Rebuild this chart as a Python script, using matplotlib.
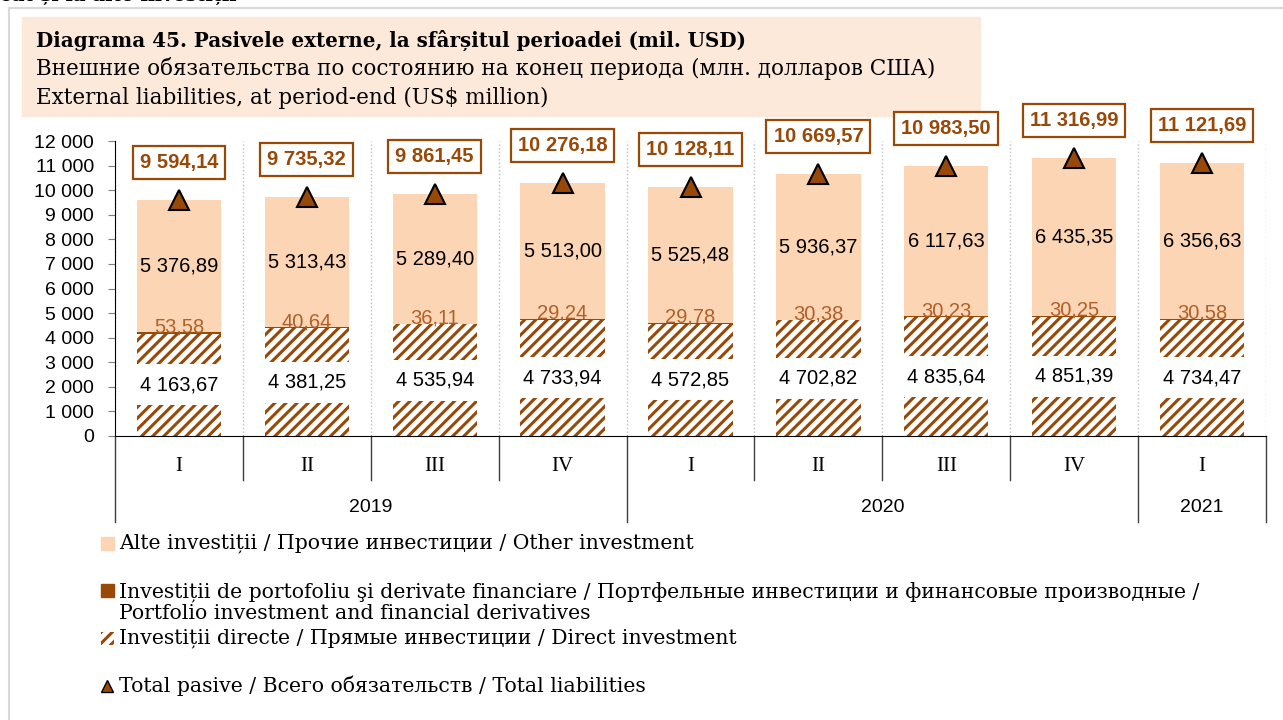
import numpy as np
import matplotlib
matplotlib.use("Agg")
import matplotlib.pyplot as plt
from matplotlib.lines import Line2D
from matplotlib.patches import Rectangle
import matplotlib.transforms as mtransforms

quarters = ["I", "II", "III", "IV", "I", "II", "III", "IV", "I"]
years = ["2019", "2020", "2021"]
year_sizes = [4, 4, 1]
direct = [4163.67, 4381.25, 4535.94, 4733.94, 4572.85, 4702.82, 4835.64, 4851.39, 4734.47]
portfolio = [53.58, 40.64, 36.11, 29.24, 29.78, 30.38, 30.23, 30.25, 30.58]
other = [5376.89, 5313.43, 5289.40, 5513.00, 5525.48, 5936.37, 6117.63, 6435.35, 6356.63]
total = [9594.14, 9735.32, 9861.45, 10276.18, 10128.11, 10669.57, 10983.50, 11316.99, 11121.69]

c_other = "#FCD5B5"
c_brown = "#984807"
c_label = "#B0602A"
c_title_bg = "#FDE9D9"
num_font = ["Liberation Sans", "DejaVu Sans"]
txt_font = ["DejaVu Serif"]

plt.rcParams["hatch.linewidth"] = 2.2
plt.rcParams["hatch.color"] = c_brown


def fmt(v):
    return f"{v:,.2f}".replace(",", " ").replace(".", ",")


fig = plt.figure(figsize=(12.83, 7.2), dpi=100)
ax = fig.add_axes([115 / 1283, 1 - 436 / 720, (1266 - 115) / 1283, 295 / 720])

x = np.arange(len(quarters))
d = np.array(direct)
p = np.array(portfolio)
o = np.array(other)
w = 0.66

ax.bar(x, d, w, color="white", hatch="///", edgecolor=c_brown, linewidth=0, zorder=2)
ax.bar(x, p, w, bottom=d, color=c_brown, linewidth=0, zorder=2)
ax.bar(x, o, w, bottom=d + p, color=c_other, linewidth=0, zorder=2)
ax.plot(x, total, ls="none", marker="^", ms=14, mfc=c_brown, mec="black", mew=1.5, zorder=4)

for i in range(len(x)):
    ax.text(x[i], d[i] / 2, fmt(d[i]), ha="center", va="center", fontsize=14.5,
            family=num_font, zorder=3,
            bbox=dict(boxstyle="square,pad=0.55", fc="white", ec="none"))
    ax.text(x[i], d[i] + p[i], fmt(p[i]), ha="center", va="baseline", fontsize=14.5,
            family=num_font, color=c_label, zorder=3)
    ax.text(x[i], d[i] + p[i] + o[i] / 2, fmt(o[i]), ha="center", va="center",
            fontsize=14.5, family=num_font, zorder=3)
    ax.annotate(fmt(total[i]), (x[i], total[i]), xytext=(0, 27), textcoords="offset points",
                ha="center", va="center", fontsize=14.5, fontweight="bold", family=num_font,
                color=c_brown, zorder=5,
                bbox=dict(boxstyle="square,pad=0.35", fc="white", ec=c_brown, lw=1.6))

ax.set_xlim(-0.5, len(x) - 0.5)
ax.set_ylim(0, 12000)
ax.set_yticks(np.arange(0, 12001, 1000))
ax.set_yticklabels([f"{v:,}".replace(",", " ") for v in range(0, 12001, 1000)],
                   family=num_font, fontsize=14)
ax.tick_params(axis="y", direction="out", length=5, color="#7F7F7F", pad=10)
ax.set_xticks([])
ax.set_xticks(np.arange(-0.5, len(x), 1), minor=True)
ax.tick_params(axis="x", which="minor", length=0)
ax.grid(which="minor", axis="x", ls=":", color="#BFBFBF", lw=1)
for s in ["top", "right"]:
    ax.spines[s].set_visible(False)
ax.spines["left"].set_color("black")
ax.spines["bottom"].set_color("black")

# two-level category axis
tr = mtransforms.blended_transform_factory(ax.transData, ax.transAxes)
for i, q in enumerate(quarters):
    ax.text(x[i], -0.105, q, transform=tr, ha="center", va="center", fontsize=15,
            family=["Liberation Serif"])
bounds = np.cumsum([0] + year_sizes) - 0.5
for k, yr in enumerate(years):
    ax.text((bounds[k] + bounds[k + 1]) / 2, -0.244, yr, transform=tr, ha="center",
            va="center", fontsize=14, family=num_font)
for b in np.arange(-0.5, len(x), 1):
    low = -0.292 if b in bounds else -0.149
    ax.plot([b, b], [0, low], transform=tr, color="#404040", lw=1, clip_on=False)

# frame and title
fig.add_artist(Line2D([9 / 1283, 9 / 1283], [0, 1 - 8 / 720], color="#D9D9D9", lw=1.5))
fig.add_artist(Line2D([9 / 1283, 1], [1 - 8 / 720, 1 - 8 / 720], color="#D9D9D9", lw=1.5))
fig.text(0.0, 0.998, "cât și la alte investiții", fontsize=14, fontweight="bold",
         family=txt_font, va="baseline")
fig.add_artist(Rectangle((22 / 1283, 1 - 116 / 720), (980 - 22) / 1283, 99 / 720,
                         color=c_title_bg, zorder=0))
fig.text(36 / 1283, 1 - 40 / 720, "Diagrama 45. Pasivele externe, la sfârșitul perioadei (mil. USD)",
         fontsize=14.3, fontweight="bold", family=txt_font, va="center")
fig.text(36 / 1283, 1 - 69 / 720,
         "Внешние обязательства по состоянию на конец периода (млн. долларов США)",
         fontsize=15.5, family=txt_font, va="center")
fig.text(36 / 1283, 1 - 98 / 720, "External liabilities, at period-end (US$ million)",
         fontsize=15.5, family=txt_font, va="center")

# legend
leg_items = [
    (543, "Alte investiții / Прочие инвестиции / Other investment", "other"),
    (602, "Investiții de portofoliu şi derivate financiare / Портфельные инвестиции и финансовые производные /\nPortfolio investment and financial derivatives", "port"),
    (638, "Investiții directe / Прямые инвестиции / Direct investment", "direct"),
    (686, "Total pasive / Всего обязательств / Total liabilities", "total"),
]
for ypx, label, kind in leg_items:
    yk = 590 if kind == "port" else ypx
    yf = 1 - yk / 720
    if kind == "total":
        fig.add_artist(Line2D([107 / 1283], [yf], marker="^", ms=8, mfc=c_brown, mec="black",
                              mew=1, ls="none"))
    else:
        kw = dict(color=c_other) if kind == "other" else dict(color=c_brown)
        if kind == "direct":
            kw = dict(fc="white", hatch="///", ec=c_brown, lw=0)
        fig.add_artist(Rectangle((101 / 1283, yf - 6.5 / 720), 13 / 1283, 13 / 720, **kw))
    fig.text(119 / 1283, 1 - ypx / 720, label, fontsize=14.7, family=txt_font, va="center",
             linespacing=1.1)

fig.savefig("out.png", dpi=100)
